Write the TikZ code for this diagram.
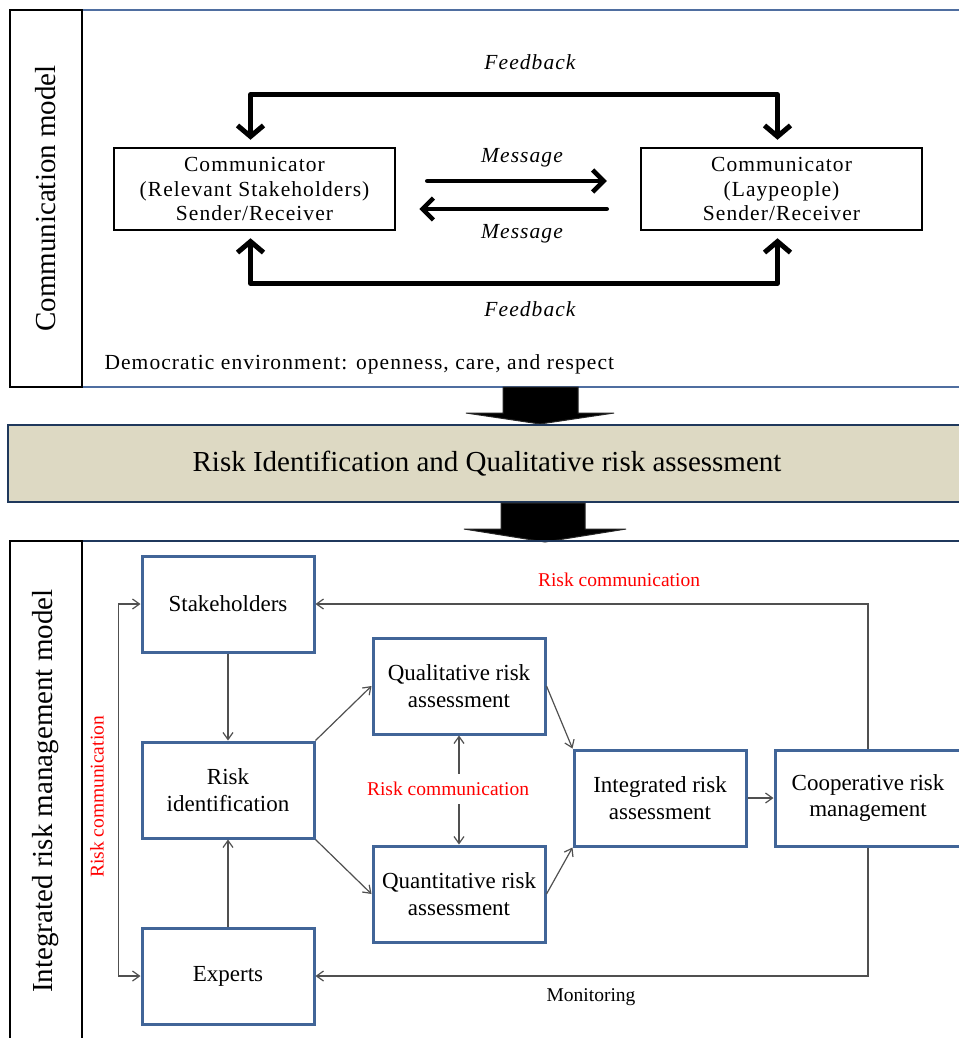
\documentclass[tikz,border=0pt]{standalone}
\usepackage{fontspec}
\setmainfont{Liberation Serif}
\newfontfamily\spacedfont[LetterSpace=5]{Liberation Serif}
\usetikzlibrary{arrows.meta,positioning,calc}

\definecolor{boxblue}{RGB}{65,101,152}
\definecolor{frameblue}{RGB}{79,110,160}
\definecolor{navyline}{RGB}{31,56,92}
\definecolor{tanfill}{RGB}{221,217,195}
\definecolor{linegray}{RGB}{80,80,80}

\tikzset{
  commbox/.style={draw, line width=2.5pt, minimum width=281pt, minimum height=82pt, align=center,
    font=\spacedfont\fontsize{21.5}{24.5}\selectfont},
  riskbox/.style={draw=boxblue, line width=3pt, minimum width=172pt, minimum height=96pt, align=center,
    font=\fontsize{23}{26.7}\selectfont},
  sidelabel/.style={draw, line width=2pt, rotate=90, font=\fontsize{29}{34}\selectfont},
  feedback/.style={line width=5pt, line cap=round, line join=round, >={Straight Barb[length=11pt,width=26pt]}, <->,
    shorten <=7pt, shorten >=7pt},
  message/.style={line width=4.5pt, line cap=round, -{Straight Barb[length=11pt,width=22pt]}},
  link/.style={draw=linegray, line width=1.2pt, -{Straight Barb[length=7pt,width=10pt]}},
  redlabel/.style={text=red, font=\fontsize{19.5}{22}\selectfont},
  italabel/.style={font=\spacedfont\itshape\fontsize{21.5}{24}\selectfont},
}

\begin{document}
\begin{tikzpicture}[x=1pt,y=-1pt]
\useasboundingbox (0,0) rectangle (958,1038);

% communication model
\draw[frameblue, line width=2pt] (82,10) rectangle (965,387);
\node[sidelabel, minimum width=377pt, minimum height=72pt] (commlabel) at (46,198.5) {Communication model};
\node[commbox] (sendL) at (254.5,189) {Communicator\\(Relevant Stakeholders)\\Sender/Receiver};
\node[commbox] (sendR) at (781.5,189) {Communicator\\(Laypeople)\\Sender/Receiver};

\draw[feedback] ([xshift=-4pt]sendL.north) -- ++(0,-52) -| ([xshift=-4pt]sendR.north);
\draw[feedback] ([xshift=-4pt]sendL.south) -- ++(0,52) -| ([xshift=-4pt]sendR.south);
\draw[message, shorten <=31pt, shorten >=33pt] ([yshift=8pt]sendL.east) -- ([yshift=8pt]sendR.west);
\draw[message, shorten <=33pt, shorten >=23pt] ([yshift=-20pt]sendR.west) -- ([yshift=-20pt]sendL.east);

\node[italabel] (fbup) at (530,62) {Feedback};
\node[italabel] (msgup) at (522,158) {Message};
\node[italabel] (msgdown) at (522,234) {Message};
\node[italabel] (fbdown) at (530,309) {Feedback};
\node[anchor=west, font=\spacedfont\fontsize{21.5}{24}\selectfont] (democ) at (101,364)
  {Democratic environment: openness, care, and respect};

% transition
\filldraw[fill=black, draw=black!85, line width=1pt] (503,387) -- (578,387) -- (578,413) -- (614,413)
  -- (540,424) -- (466,413) -- (503,413) -- cycle;
\node[draw=navyline, fill=tanfill, line width=2.5pt, minimum width=958pt, minimum height=77pt,
  font=\fontsize{29}{34}\selectfont] (riskbar) at (487,463.5) {Risk Identification and Qualitative risk assessment};
\filldraw[fill=black, draw=black!85, line width=1pt] (501,503) -- (585,503) -- (585,529) -- (626,529)
  -- (545,542) -- (464,529) -- (501,529) -- cycle;

% integrated risk management model
\draw[navyline, line width=2.5pt] (82,541) rectangle (965,1045);
\node[sidelabel, minimum width=500pt, minimum height=72pt] (irmlabel) at (46,791) {Integrated risk management model};

\node[riskbox] (stake) at (228,604) {Stakeholders};
\node[riskbox] (riskid) at (228,790) {Risk\\identification};
\node[riskbox] (experts) at (228,976) {Experts};
\node[riskbox] (qual) at (459,686) {Qualitative risk\\assessment};
\node[riskbox] (quant) at (459,894) {Quantitative risk\\assessment};
\node[riskbox] (integ) at (660,798) {Integrated risk\\assessment};
\node[riskbox, minimum width=186pt] (coop) at (868,798) {Cooperative risk\\management};

\node[redlabel] (rctop) at (619,580) {Risk communication};
\node[redlabel, rotate=90] (rcside) at (97,797) {Risk communication};
\node[redlabel, inner sep=8pt] (rcmid) at (448,789) {Risk communication};
\node[font=\fontsize{19.5}{22}\selectfont] (monitor) at (591,997) {Monitoring};

\draw[link] (stake) -- (riskid);
\draw[link] (experts) -- (riskid);
\draw[link] (riskid.north east) -- (qual.west);
\draw[link] (riskid.south east) -- (quant.west);
\draw[link] (qual.east) -- (integ.north west);
\draw[link] (quant.east) -- (integ.south west);
\draw[link] (integ) -- (coop);
\draw[link] (coop.north) |- (stake.east);
\draw[link] (coop.south) |- (experts.east);
\draw[link, {Straight Barb[length=7pt,width=10pt]}-{Straight Barb[length=7pt,width=10pt]}] (stake.west) -- ++(-22,0) |- (experts.west);
\draw[link] (rcmid.north -| qual.south) -- (qual.south);
\draw[link] (rcmid.south -| quant.north) -- (quant.north);
\end{tikzpicture}
\end{document}
